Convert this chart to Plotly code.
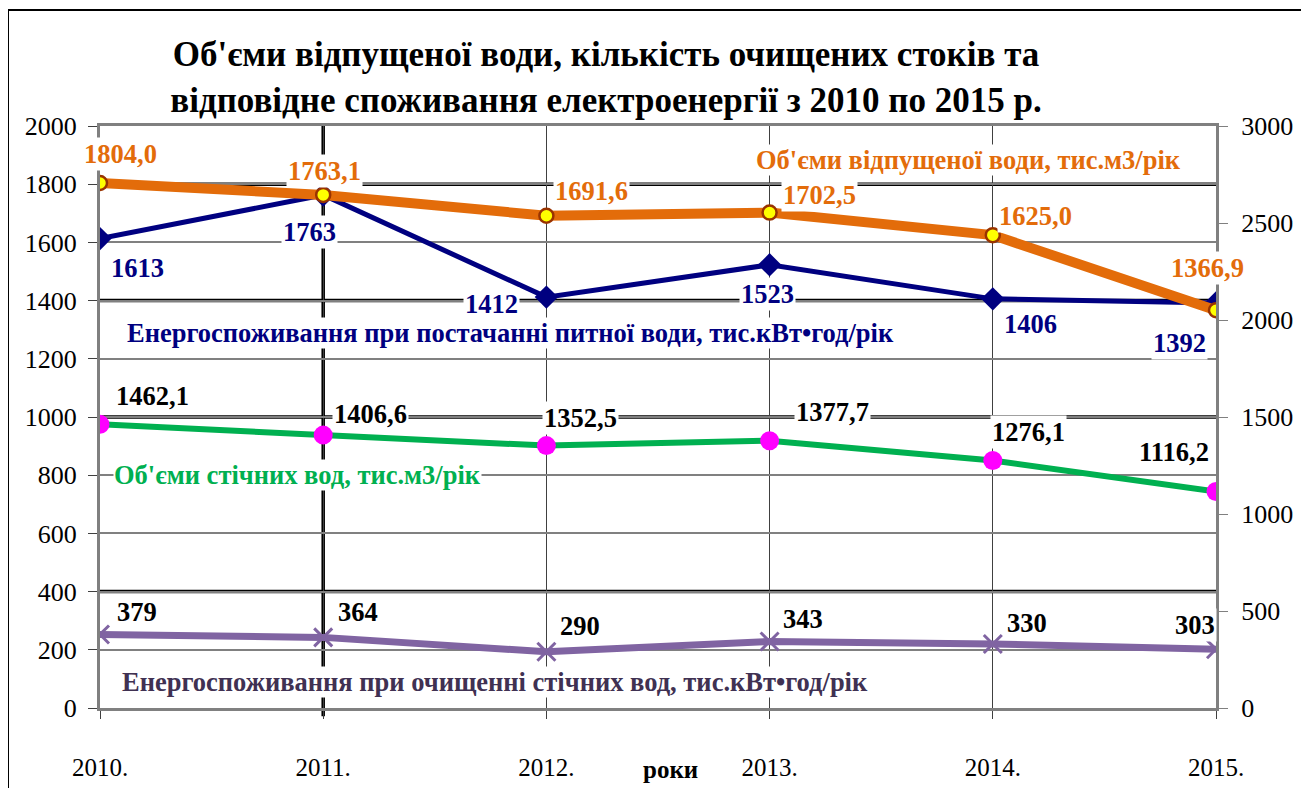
import plotly.graph_objects as go

YEARS = ["2010.", "2011.", "2012.", "2013.", "2014.", "2015."]
WATER_SUPPLIED = [1804.0, 1763.1, 1691.6, 1702.5, 1625.0, 1366.9]
ENERGY_SUPPLY = [1613, 1763, 1412, 1523, 1406, 1392]
WASTEWATER = [1462.1, 1406.6, 1352.5, 1377.7, 1276.1, 1116.2]
ENERGY_TREATMENT = [379, 364, 290, 343, 330, 303]

WATER_SUPPLIED_TXT = ["1804,0", "1763,1", "1691,6", "1702,5", "1625,0", "1366,9"]
ENERGY_SUPPLY_TXT = ["1613", "1763", "1412", "1523", "1406", "1392"]
WASTEWATER_TXT = ["1462,1", "1406,6", "1352,5", "1377,7", "1276,1", "1116,2"]
ENERGY_TREATMENT_TXT = ["379", "364", "290", "343", "330", "303"]

NAME_WATER = "Об'єми відпущеної води, тис.м3/рік"
NAME_ESUP = "Енергоспоживання при постачанні питної води, тис.кВт•год/рік"
NAME_WASTE = "Об'єми стічних вод, тис.м3/рік"
NAME_ETREAT = "Енергоспоживання при очищенні стічних вод, тис.кВт•год/рік"
TITLE = "Об'єми відпущеної води, кількість очищених стоків та<br>відповідне споживання електроенергії з 2010 по 2015 р."

FONT = "Liberation Serif, Times New Roman, serif"
ORANGE = "#E36C0A"
NAVY = "#000080"
GREEN = "#00B050"
PURPLE = "#8064A2"

# label pixel offsets (style)
OFF_WATER = [(20, -29), (1, -24), (45, -25), (50, -18), (43, -19), (-9, -42)]
OFF_ESUP = [(37, 29), (-14, 37), (-55, 7), (-2, 29), (38, 25), (-37, 40)]
OFF_WASTE = [(52, -28), (47, -21), (34, -28), (63, -29), (36, -28), (-42, -39)]
OFF_ETREAT = [(37, -22), (35, -25), (34, -26), (33, -22), (34, -21), (-21, -24)]

fig = go.Figure()

fig.add_trace(go.Scatter(x=YEARS, y=ENERGY_TREATMENT, yaxis="y2", mode="lines+markers",
                         line=dict(color=PURPLE, width=7),
                         marker=dict(symbol="x-thin-open", size=18, color=PURPLE,
                                     line=dict(color=PURPLE, width=3)),
                         name=NAME_ETREAT))
fig.add_trace(go.Scatter(x=YEARS, y=WASTEWATER, yaxis="y2", mode="lines+markers",
                         line=dict(color=GREEN, width=6),
                         marker=dict(symbol="circle", size=19, color="#FF00FF"),
                         name=NAME_WASTE))
fig.add_trace(go.Scatter(x=YEARS, y=ENERGY_SUPPLY, mode="lines+markers",
                         line=dict(color=NAVY, width=5),
                         marker=dict(symbol="diamond", size=18, color=NAVY),
                         name=NAME_ESUP))
fig.add_trace(go.Scatter(x=YEARS, y=WATER_SUPPLIED, mode="lines+markers",
                         line=dict(color=ORANGE, width=10),
                         marker=dict(symbol="circle", size=14, color="#FFFF00",
                                     line=dict(color="#993300", width=2.5)),
                         name=NAME_WATER))

annotations = []


def add_labels(vals, txts, offs, color, yref):
    for i, (v, t, (dx, dy)) in enumerate(zip(vals, txts, offs)):
        annotations.append(dict(x=i, y=v, xref="x", yref=yref, text="<b>%s</b>" % t,
                                xanchor="center", yanchor="middle",
                                showarrow=False, xshift=dx, yshift=-dy,
                                font=dict(family=FONT, size=26.5, color=color),
                                bgcolor="white", borderpad=1))


add_labels(WATER_SUPPLIED, WATER_SUPPLIED_TXT, OFF_WATER, ORANGE, "y")
add_labels(ENERGY_SUPPLY, ENERGY_SUPPLY_TXT, OFF_ESUP, NAVY, "y")
add_labels(WASTEWATER, WASTEWATER_TXT, OFF_WASTE, "black", "y2")
add_labels(ENERGY_TREATMENT, ENERGY_TREATMENT_TXT, OFF_ETREAT, "black", "y2")

series_names = [
    (NAME_WATER, ORANGE, 0.778, 0.9416),
    (NAME_ESUP, NAVY, 0.368, 0.644),
    (NAME_WASTE, GREEN, 0.177, 0.400),
    (NAME_ETREAT, "#403152", 0.354, 0.0447),
]
for txt, col, px, py in series_names:
    annotations.append(dict(x=px, y=py, xref="paper", yref="paper", text="<b>%s</b>" % txt,
                            xanchor="center", yanchor="middle",
                            showarrow=False, font=dict(family=FONT, size=26.5, color=col),
                            bgcolor="white", borderpad=0))

annotations.append(dict(x=0.511, y=-0.1065, xref="paper", yref="paper", text="<b>роки</b>",
                        xanchor="center", yanchor="middle",
                        showarrow=False, font=dict(family=FONT, size=25, color="black")))

shapes = []
for g in [1800, 1400, 1000, 400]:
    shapes.append(dict(type="line", xref="paper", yref="y", x0=0, x1=1, y0=g, y1=g,
                       line=dict(color="black", width=3.5), layer="between"))
for g in [1200, 200]:
    shapes.append(dict(type="line", xref="paper", yref="y", x0=0, x1=1, y0=g, y1=g,
                       line=dict(color="black", width=1.5), layer="between"))
shapes.append(dict(type="line", xref="x", yref="paper", x0=1, x1=1, y0=-0.014, y1=1,
                   line=dict(color="black", width=3.5), layer="between"))
# outer frame
shapes.append(dict(type="rect", xref="paper", yref="paper",
                   x0=(8 - 100) / 1116, x1=(1303 - 100) / 1116,
                   y0=-0.3, y1=(708 - 10) / 582,
                   line=dict(color="black", width=2), layer="below"))

fig.update_layout(
    width=1309, height=788,
    margin=dict(l=92, r=101, t=118, b=88, autoexpand=False),
    paper_bgcolor="white", plot_bgcolor="white",
    showlegend=False,
    title=dict(text="<b>%s</b>" % TITLE, x=598 / 1309, xanchor="center",
               y=1 - 58 / 788, yanchor="middle", yref="container",
               font=dict(family=FONT, size=35, color="black")),
    xaxis=dict(type="category", range=[0, 5], showgrid=True, gridcolor="#404040", gridwidth=1,
               showline=True, linecolor="#808080", linewidth=3, mirror=True,
               ticks="outside", ticklen=8, tickcolor="#404040", tickwidth=1,
               ticklabelstandoff=27, automargin=False,
               tickfont=dict(family=FONT, size=25, color="black")),
    yaxis=dict(range=[0, 2000], dtick=200, showgrid=True, gridcolor="#808080", gridwidth=1.5,
               showline=True, linecolor="#808080", linewidth=3, zeroline=False,
               ticks="outside", ticklen=9, tickcolor="#404040", ticklabelstandoff=6,
               automargin=False,
               tickfont=dict(family=FONT, size=26, color="black")),
    yaxis2=dict(range=[0, 3000], dtick=500, overlaying="y", side="right", showgrid=False,
                showline=True, linecolor="#808080", linewidth=3, zeroline=False,
                ticks="outside", ticklen=9, tickcolor="#808080", ticklabelstandoff=8,
                automargin=False,
                tickfont=dict(family=FONT, size=26, color="black")),
    annotations=annotations,
    shapes=shapes,
)

fig.write_html("out.html")
